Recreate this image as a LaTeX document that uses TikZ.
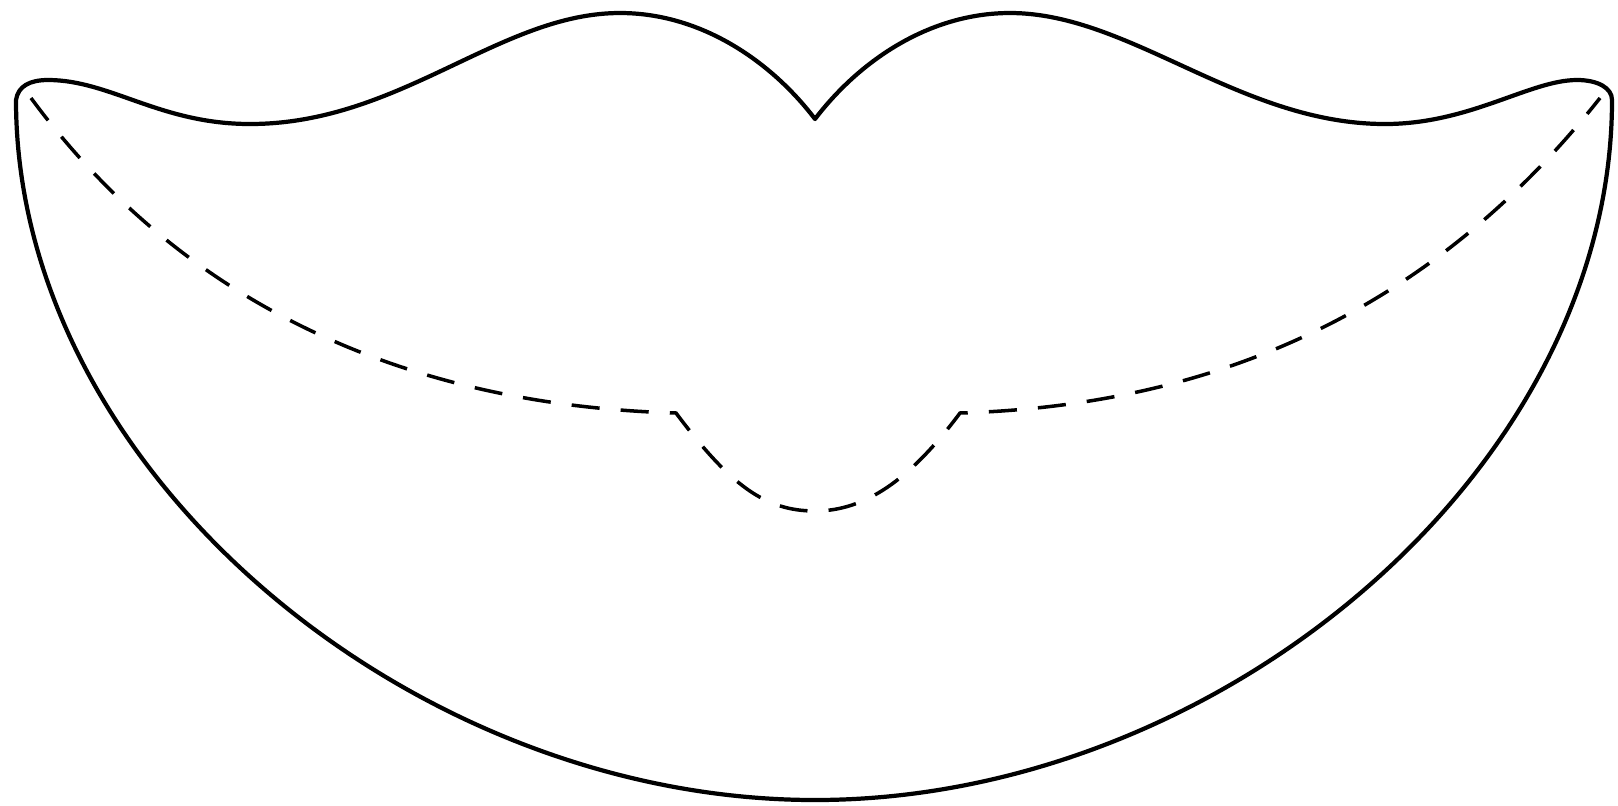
\documentclass[tikz,border=0pt]{standalone}

\begin{document}
\begin{tikzpicture}[x=0.01cm,y=-0.01cm,
  lipline/.style={draw, line width=1.2pt, line join=round},
  cutline/.style={draw, line width=1pt, dash pattern=on 8pt off 6pt}]
\useasboundingbox (0,0) rectangle (1618,805);
% outer outline of the lips
\path[lipline] (16,100) .. controls (18,86) and (30,80) .. (48,80)
  .. controls (110,80) and (160,124) .. (250,124)
  .. controls (400,124) and (500,13) .. (620,13)
  .. controls (700,13) and (770,60) .. (815,119)
  .. controls (860,60) and (930,13) .. (1010,13)
  .. controls (1130,13) and (1240,124) .. (1385,124)
  .. controls (1470,124) and (1530,80) .. (1577,80)
  .. controls (1598,80) and (1612,88) .. (1612,100)
  .. controls (1612,470) and (1220,800) .. (815,800)
  .. controls (410,800) and (16,470) .. (16,100) -- cycle;
% dashed line between the lips
\path[cutline] (31,98) .. controls (180,300) and (400,405) .. (676,413)
  .. controls (730,485) and (765,511) .. (815,511)
  .. controls (865,511) and (910,480) .. (960,413)
  .. controls (1230,405) and (1440,300) .. (1600,98);
\end{tikzpicture}
\end{document}
